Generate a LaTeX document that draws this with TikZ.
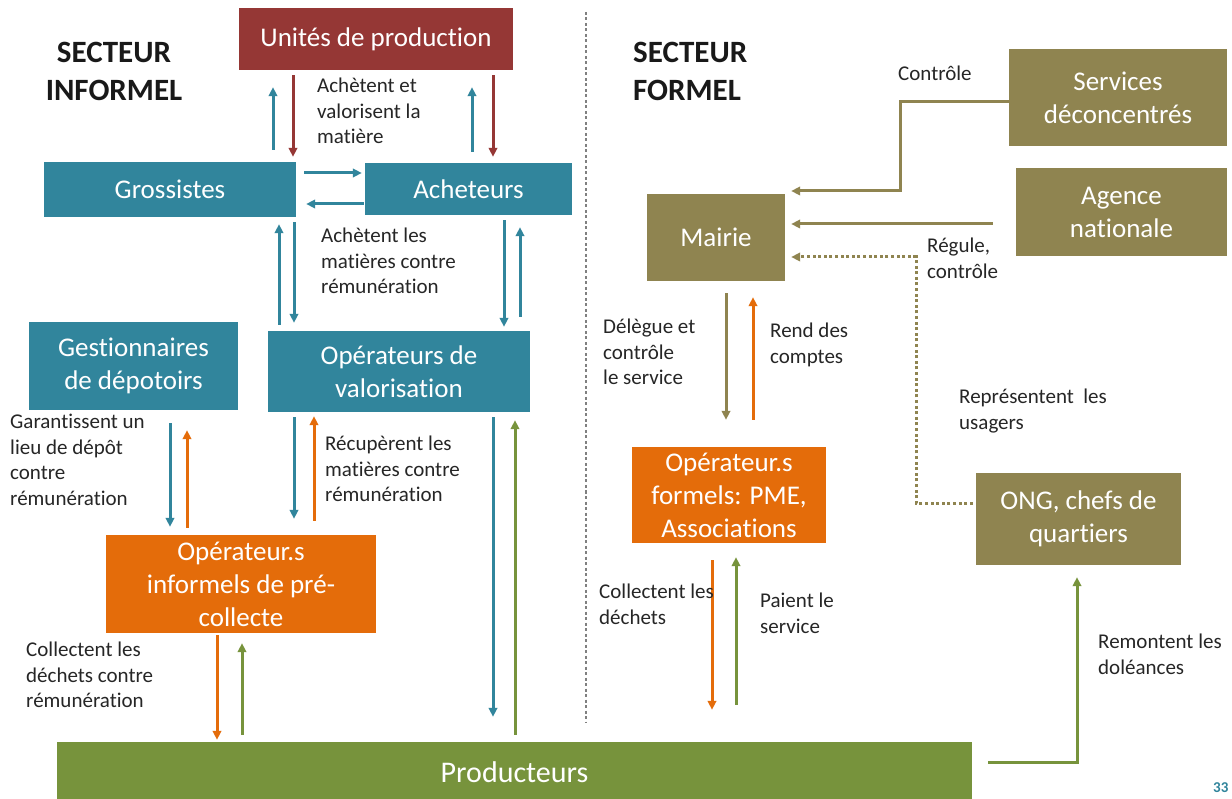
\documentclass[tikz,border=0pt]{standalone}
\usepackage{fontspec}
\setmainfont[Ligatures=NoCommon]{Carlito}
\usetikzlibrary{arrows.meta}
\definecolor{cTeal}{HTML}{31859C}
\definecolor{cRed}{HTML}{953735}
\definecolor{cOrange}{HTML}{E46C0A}
\definecolor{cGreen}{HTML}{77933C}
\definecolor{cOlive}{HTML}{8F8450}
\definecolor{cLine}{HTML}{808080}
\begin{document}
\begin{tikzpicture}[x=1pt,y=-1pt,
  box/.style={fill=#1, text=white, font=\fontsize{27}{33}\selectfont, align=center, inner sep=0pt},
  arr/.style={draw=#1, line width=3pt, -{Triangle[length=9pt,width=8.5pt]}},
  lab/.style={font=\fontsize{21}{25.5}\selectfont, text=black!85, align=left, anchor=north west, inner sep=0pt},
  ttl/.style={font=\bfseries\fontsize{31}{38}\selectfont, text=black!90, inner sep=0pt}]
\useasboundingbox (0,0) rectangle (1232,799);
\fill[white] (0,0) rectangle (1232,799);

% titles
\node[ttl, align=center] (tinf) at (114,71) {SECTEUR\\INFORMEL};
\node[ttl, align=left, anchor=west] (tfor) at (633,71) {SECTEUR\\FORMEL};

% separator
\draw[cLine, line width=1.6pt, dash pattern=on 3pt off 2.5pt] (586,12) -- (586,723);

% boxes
\node[box=cRed, minimum width=274pt, minimum height=62pt] (up) at (376,39) {Unités de production};
\node[box=cTeal, minimum width=252pt, minimum height=55pt] (gro) at (170,189.5) {Grossistes};
\node[box=cTeal, minimum width=207pt, minimum height=52pt] (ach) at (468.5,189) {Acheteurs};
\node[box=cTeal, minimum width=209pt, minimum height=88pt] (ges) at (133.5,366) {Gestionnaires\\de dépotoirs};
\node[box=cTeal, minimum width=262pt, minimum height=81pt] (opv) at (399,371.5) {Opérateurs de\\valorisation};
\node[box=cOrange, minimum width=270pt, minimum height=98pt] (opi) at (241,584) {Opérateur.s\\informels de pré-\\collecte};
\node[box=cGreen, minimum width=915pt, minimum height=60pt, font=\fontsize{30}{36}\selectfont] (prod) at (514.5,772) {Producteurs};
\node[box=cOlive, minimum width=218pt, minimum height=97pt] (sd) at (1118,97.5) {Services\\déconcentrés};
\node[box=cOlive, minimum width=211pt, minimum height=88pt] (an) at (1121.5,212) {Agence\\nationale};
\node[box=cOlive, minimum width=138pt, minimum height=87pt] (mai) at (716,237.5) {Mairie};
\node[box=cOrange, minimum width=194pt, minimum height=96pt] (opf) at (729,495) {Opérateur.s\\formels: PME,\\Associations};
\node[box=cOlive, minimum width=205pt, minimum height=92pt] (ong) at (1078.5,519) {ONG, chefs de\\quartiers};

% informal arrows
\draw[arr=cTeal, shorten <=12pt, shorten >=17pt] (gro.north -| 273,0) -- (up.south -| 273,0);
\draw[arr=cRed, shorten <=5pt, shorten >=5pt] (up.south -| 293,0) -- (gro.north -| 293,0);
\draw[arr=cTeal, shorten <=11pt, shorten >=17pt] (ach.north -| 472,0) -- (up.south -| 472,0);
\draw[arr=cRed, shorten <=5pt, shorten >=6pt] (up.south -| 493,0) -- (ach.north -| 493,0);
\draw[arr=cTeal, shorten <=8pt, shorten >=3pt] (gro.east |- 0,173) -- (ach.west |- 0,173);
\draw[arr=cTeal, shorten <=1pt, shorten >=10pt] (ach.west |- 0,204) -- (gro.east |- 0,204);
\draw[arr=cTeal, shorten <=6pt, shorten >=7pt] (opv.north -| 279,0) -- (gro.south -| 279,0);
\draw[arr=cTeal, shorten <=5pt, shorten >=8pt] (gro.south -| 294,0) -- (opv.north -| 294,0);
\draw[arr=cTeal, shorten <=5pt, shorten >=4pt] (ach.south -| 504,0) -- (opv.north -| 504,0);
\draw[arr=cTeal, shorten <=14pt, shorten >=12pt] (opv.north -| 520,0) -- (ach.south -| 520,0);
\draw[arr=cTeal, shorten <=13pt, shorten >=8pt] (ges.south -| 170,0) -- (opi.north -| 170,0);
\draw[arr=cOrange, shorten <=7pt, shorten >=20pt] (opi.north -| 187,0) -- (ges.south -| 187,0);
\draw[arr=cTeal, shorten <=5pt, shorten >=16pt] (opv.south -| 294,0) -- (opi.north -| 294,0);
\draw[arr=cOrange, shorten <=14pt, shorten >=4pt] (opi.north -| 314,0) -- (opv.south -| 314,0);
\draw[arr=cTeal, shorten <=5pt, shorten >=25pt] (opv.south -| 493,0) -- (prod.north -| 493,0);
\draw[arr=cGreen, shorten <=7pt, shorten >=8pt] (prod.north -| 515,0) -- (opv.south -| 515,0);
\draw[arr=cOrange, shorten <=2pt, shorten >=2pt] (opi.south -| 217,0) -- (prod.north -| 217,0);
\draw[arr=cGreen, shorten <=7pt, shorten >=10pt] (prod.north -| 242,0) -- (opi.south -| 242,0);

% formal arrows
\draw[arr=cOlive, shorten >=6pt] (sd.west |- 0,102) -- (900,102) -- (900,191) -- (mai.east |- 0,191);
\draw[arr=cOlive, shorten <=23pt, shorten >=6pt] (an.west |- 0,224) -- (mai.east |- 0,224);
\draw[arr=cOlive, dash pattern=on 3pt off 2.6pt, shorten <=3pt, shorten >=6pt] (ong.west |- 0,503) -- (916,503) -- (916,257) -- (mai.east |- 0,257);
\draw[arr=cOlive, shorten <=12pt, shorten >=27pt] (mai.south -| 726,0) -- (opf.north -| 726,0);
\draw[arr=cOrange, shorten <=27pt, shorten >=16pt] (opf.north -| 753,0) -- (mai.south -| 753,0);
\draw[arr=cOrange, shorten <=17pt, shorten >=32pt] (opf.south -| 712,0) -- (prod.north -| 712,0);
\draw[arr=cGreen, shorten <=37pt, shorten >=14pt] (prod.north -| 736,0) -- (opf.south -| 736,0);
\draw[arr=cGreen, shorten <=16pt, shorten >=12pt] (prod.east |- 0,762) -- (1077,762) -- (ong.south -| 1077,0);

% labels
\node[lab] (l1) at (317,78) {Achètent et\\valorisent la\\matière};
\node[lab] (l2) at (321,228) {Achètent les\\matières contre\\rémunération};
\node[lab] (l3) at (10,414) {Garantissent un\\lieu de dépôt\\contre\\rémunération};
\node[lab] (l4) at (325,436) {Récupèrent les\\matières contre\\rémunération};
\node[lab] (l5) at (26,642) {Collectent les\\déchets contre\\rémunération};
\node[lab] (l6) at (898,66) {Contrôle};
\node[lab] (l7) at (927,238) {Régule,\\contrôle};
\node[lab] (l8) at (603,319) {Délègue et\\contrôle\\le service};
\node[lab] (l9) at (770,323) {Rend des\\comptes};
\node[lab] (l10) at (959,389) {Représentent~ les\\usagers};
\node[lab] (l11) at (599,584) {Collectent les\\déchets};
\node[lab] (l12) at (760,593) {Paient le\\service};
\node[lab] (l13) at (1098,634) {Remontent les\\doléances};

\node[font=\bfseries\fontsize{15}{18}\selectfont, text=cTeal, anchor=west, inner sep=0pt] (pg) at (1213,788) {33};
\end{tikzpicture}
\end{document}
